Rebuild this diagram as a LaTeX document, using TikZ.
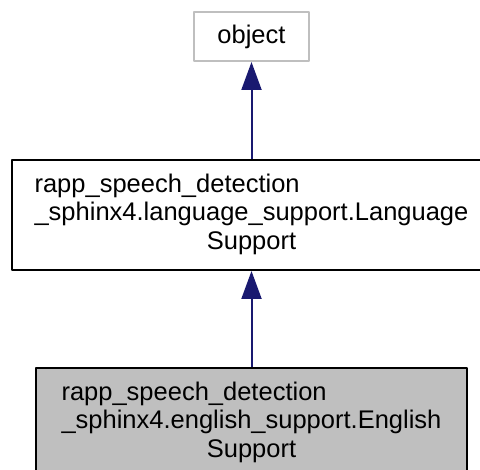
\documentclass[tikz,border=0pt]{standalone}
\usepackage{fontspec}
\setmainfont{Liberation Sans}
\usetikzlibrary{arrows.meta}
\definecolor{edgeblue}{HTML}{191970}
\definecolor{boxgray}{HTML}{BFBFBF}

\begin{document}
\begin{tikzpicture}[x=1pt,y=-1pt,>={Triangle[width=20pt,length=28pt]},line join=bevel,
  classbox/.style={draw,line width=2pt,inner sep=0pt,minimum height=110pt,
    font=\fontsize{25.5}{28.5}\selectfont},
  inherit/.style={edgeblue,line width=2pt,->}]
\clip (0,0) rectangle (480,470);
%%
\node (node_object) at (251.5,36.5) [classbox,draw=boxgray,fill=white,minimum width=115pt,minimum height=49pt] {object};
  \node (node_lang) at (251.5,215) [classbox,draw=black,fill=white,minimum width=479pt]
    {\begin{tabular}{@{}l@{}}rapp\_speech\_detection\\ \_sphinx4.language\_support.Language\\ \multicolumn{1}{@{}c@{}}{Support}\end{tabular}};
  \node (node_english) at (251.5,423) [classbox,draw=black,fill=boxgray,minimum width=431pt]
    {\begin{tabular}{@{}l@{}}rapp\_speech\_detection\\ \_sphinx4.english\_support.English\\ \multicolumn{1}{@{}c@{}}{Support}\end{tabular}};
  \draw [inherit] (node_lang) -- (node_object);
  \draw [inherit] (node_english) -- (node_lang);
%
\end{tikzpicture}
\end{document}
